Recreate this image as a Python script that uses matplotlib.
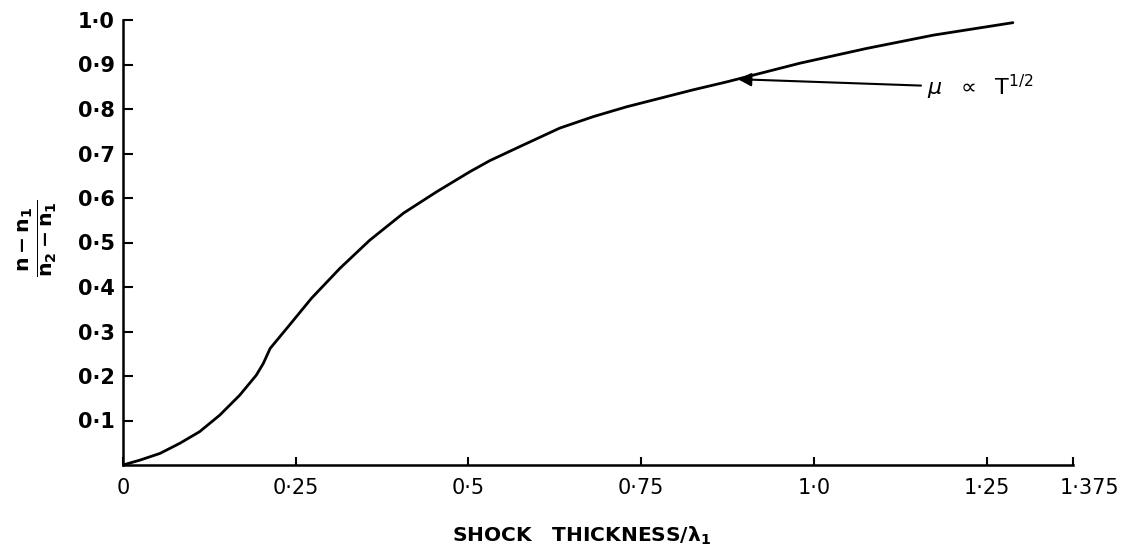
import matplotlib
matplotlib.use("Agg")
import matplotlib.pyplot as plt
import matplotlib.transforms as mtransforms

# ---- data ----
thickness = [0.0, 0.0246, 0.0535, 0.0825, 0.111, 0.140, 0.169, 0.193, 0.203,
             0.213, 0.237, 0.273, 0.314, 0.357, 0.406, 0.454, 0.502, 0.531,
             0.575, 0.632, 0.681, 0.729, 0.777, 0.825, 0.874, 0.980, 1.076,
             1.173, 1.288]
density = [0.0, 0.011, 0.026, 0.049, 0.075, 0.112, 0.157, 0.202, 0.228,
           0.262, 0.307, 0.375, 0.442, 0.505, 0.566, 0.614, 0.659, 0.684,
           0.716, 0.757, 0.783, 0.805, 0.824, 0.843, 0.861, 0.903, 0.936,
           0.966, 0.994]

x_ticks = [0, 0.25, 0.5, 0.75, 1.0, 1.25, 1.375]
x_tick_labels = ["0", "0·25", "0·5", "0·75", "1·0", "1·25", "1·375"]
y_ticks = [0.1, 0.2, 0.3, 0.4, 0.5, 0.6, 0.7, 0.8, 0.9, 1.0]
y_tick_labels = ["0·1", "0·2", "0·3", "0·4", "0·5", "0·6", "0·7", "0·8", "0·9", "1·0"]

annot_xy = (0.890, 0.867)
annot_text_xy = (1.163, 0.848)

plt.rcParams['font.family'] = ['DejaVu Sans']
plt.rcParams['mathtext.fontset'] = 'dejavusans'

fig = plt.figure(figsize=(11.22, 5.51), dpi=100)
ax = fig.add_axes([123/1122, 86/551, 950/1122, 445/551])

ax.plot(thickness, density, color='black', lw=2.0,
        solid_capstyle='round', solid_joinstyle='round')

ax.set_xlim(0, 1.375)
ax.set_ylim(0, 1.0)
for s in ['top', 'right']:
    ax.spines[s].set_visible(False)
for s in ['left', 'bottom']:
    ax.spines[s].set_linewidth(1.8)

ax.set_xticks(x_ticks)
ax.set_xticklabels(x_tick_labels, fontsize=15)
ax.set_yticks(y_ticks)
ax.set_yticklabels(y_tick_labels, fontsize=15, fontweight='bold')
ax.tick_params(axis='x', direction='in', length=6, width=1.5, pad=9)
ax.tick_params(axis='y', direction='in', length=7, width=1.5, pad=6)

# last x tick label sits right of its tick
lbl = ax.get_xticklabels()[-1]
lbl.set_transform(lbl.get_transform() + mtransforms.ScaledTranslation(16/100, 0, fig.dpi_scale_trans))

fig.text(38/1122, 1 - 238/551, r'$\mathbf{\frac{n-n_1}{n_2-n_1}}$', rotation=90,
         ha='center', va='center', fontsize=21)
fig.text(581/1122, 1 - 536/551, r'SHOCK   THICKNESS/$\mathbf{\lambda_1}$',
         ha='center', va='center', fontsize=14.5, fontweight='bold')

ax.annotate(r'$\mu\ \ \propto\ \ \mathrm{T}^{1/2}$', xy=annot_xy, xytext=annot_text_xy,
            ha='left', va='center', fontsize=16,
            arrowprops=dict(arrowstyle='-|>', color='black', lw=1.5,
                            mutation_scale=20, shrinkA=2, shrinkB=0))

fig.savefig('out.png', dpi=100)
